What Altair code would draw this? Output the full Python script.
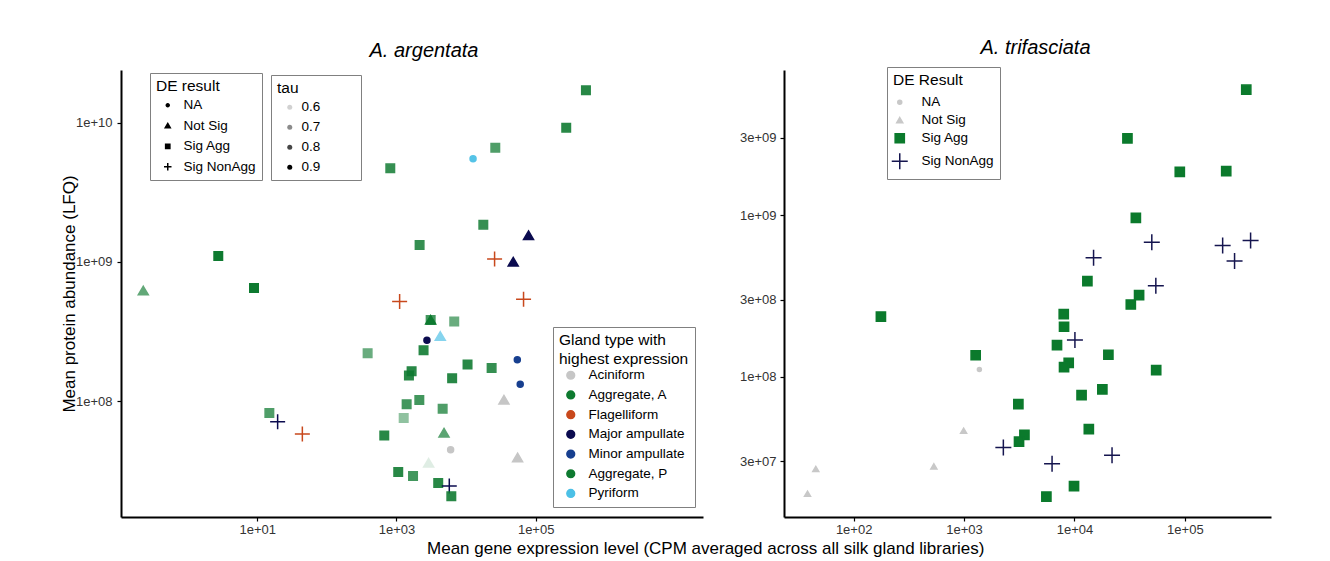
import json
import altair as alt
import pandas as pd

# ---------------- A. argentata (left panel) ----------------
arg_cpm = [0.23, 2.75, 8.97, 14.9, 19.6, 44.4, 5.28e5, 2.75e5, 2.63e4, 1.26e4,
           815, 1.77e4, 7.9e4, 2150, 2.57e4, 4.76e4, 1110, 6.7e4, 3100, 3100,
           6760, 2740, 4260, 385, 2450, 1650, 1510, 1.05e4, 2.33e4, 6310,
           5.45e4, 6.0e4, 3.5e4, 2130, 1400, 4610, 1270, 668, 4820, 6000,
           5.5e4, 2900, 1060, 1730, 3980, 5740, 6140]
arg_lfq = [6.2e8, 1.1e9, 6.5e8, 8.2e7, 7.1e7, 5.8e7, 1.71e10, 9.2e9, 6.6e9, 5.5e9,
           4.7e9, 1.85e9, 1.55e9, 1.32e9, 1.05e9, 1.0e9, 5.2e8, 5.4e8, 3.82e8, 3.82e8,
           3.73e8, 2.74e8, 2.92e8, 2.21e8, 2.32e8, 1.64e8, 1.53e8, 1.83e8, 1.73e8, 1.46e8,
           1.98e8, 1.32e8, 1.02e8, 1.02e8, 9.5e7, 8.8e7, 7.55e7, 5.66e7, 5.9e7, 4.47e7,
           3.92e7, 3.59e7, 3.09e7, 2.9e7, 2.58e7, 2.45e7, 2.07e7]
arg_de = ["Not Sig", "Sig Agg", "Sig Agg", "Sig Agg", "Sig NonAgg", "Sig NonAgg", "Sig Agg", "Sig Agg", "Sig Agg", "NA",
          "Sig Agg", "Sig Agg", "Not Sig", "Sig Agg", "Sig NonAgg", "Not Sig", "Sig NonAgg", "Sig NonAgg", "Sig Agg", "Not Sig",
          "Sig Agg", "NA", "Not Sig", "Sig Agg", "Sig Agg", "Sig Agg", "Sig Agg", "Sig Agg", "Sig Agg", "Sig Agg",
          "NA", "NA", "Not Sig", "Sig Agg", "Sig Agg", "Sig Agg", "Sig Agg", "Sig Agg", "Not Sig", "NA",
          "Not Sig", "Not Sig", "Sig Agg", "Sig Agg", "Sig Agg", "Sig NonAgg", "Sig Agg"]
arg_gland = ["Aggregate, A", "Aggregate, P", "Aggregate, P", "Aggregate, A", "Major ampullate", "Flagelliform",
             "Aggregate, A", "Aggregate, P", "Aggregate, A", "Pyriform",
             "Aggregate, A", "Aggregate, P", "Major ampullate", "Aggregate, A", "Flagelliform", "Major ampullate",
             "Flagelliform", "Flagelliform", "Aggregate, P", "Aggregate, A",
             "Aggregate, A", "Major ampullate", "Pyriform", "Aggregate, A", "Aggregate, P", "Aggregate, A",
             "Aggregate, P", "Aggregate, A", "Aggregate, P", "Aggregate, A",
             "Minor ampullate", "Minor ampullate", "Aciniform", "Aggregate, P", "Aggregate, A", "Aggregate, P",
             "Aggregate, A", "Aggregate, P", "Aggregate, A", "Aciniform",
             "Aciniform", "Aggregate, A", "Aggregate, P", "Aggregate, A", "Aggregate, P", "Major ampullate",
             "Aggregate, A"]
arg_tau = [0.77, 0.9, 0.9, 0.8, 0.9, 0.9, 0.86, 0.86, 0.8, 0.88,
           0.84, 0.84, 0.9, 0.84, 0.9, 0.9, 0.9, 0.9, 0.82, 0.9,
           0.76, 0.9, 0.78, 0.76, 0.86, 0.86, 0.86, 0.86, 0.84, 0.86,
           0.9, 0.9, 0.9, 0.82, 0.82, 0.8, 0.7, 0.86, 0.78, 0.9,
           0.9, 0.58, 0.86, 0.82, 0.86, 0.9, 0.86]

# ---------------- A. trifasciata (right panel) ----------------
tri_cpm = [176.6, 1274, 1377, 3105, 991, 3524, 3148, 2270, 45.4, 533,
           38.2, 3.6e5, 3.02e4, 9.0e4, 2.37e5, 3.6e4, 5.02e4, 2.2e5, 3.94e5, 2.82e5,
           1.49e4, 1.31e4, 5.46e4, 3.85e4, 3.24e4, 8000, 8050, 1.01e4, 6950, 2.03e4,
           8870, 8050, 5.5e4, 1.79e4, 1.16e4, 1.35e4, 2.19e4, 6270, 9910, 5570]
tri_lfq = [2.36e8, 1.36e8, 1.11e8, 6.78e7, 4.63e7, 4.38e7, 3.98e7, 3.66e7, 2.69e7, 2.79e7,
           1.89e7, 5.96e9, 2.98e9, 1.85e9, 1.87e9, 9.6e8, 6.8e8, 6.49e8, 6.97e8, 5.21e8,
           5.45e8, 3.91e8, 3.66e8, 3.2e8, 2.8e8, 2.44e8, 2.04e8, 1.69e8, 1.57e8, 1.37e8,
           1.22e8, 1.15e8, 1.1e8, 8.36e7, 7.7e7, 4.75e7, 3.28e7, 2.9e7, 2.11e7, 1.82e7]
tri_de = ["Sig Agg", "Sig Agg", "NA", "Sig Agg", "Not Sig", "Sig Agg", "Sig Agg", "Sig NonAgg", "Not Sig", "Not Sig",
          "Not Sig", "Sig Agg", "Sig Agg", "Sig Agg", "Sig Agg", "Sig Agg", "Sig NonAgg", "Sig NonAgg", "Sig NonAgg", "Sig NonAgg",
          "Sig NonAgg", "Sig Agg", "Sig NonAgg", "Sig Agg", "Sig Agg", "Sig Agg", "Sig Agg", "Sig NonAgg", "Sig Agg", "Sig Agg",
          "Sig Agg", "Sig Agg", "Sig Agg", "Sig Agg", "Sig Agg", "Sig Agg", "Sig NonAgg", "Sig NonAgg", "Sig Agg", "Sig Agg"]

# ---------------- categories, ticks ----------------
de_levels = ["NA", "Not Sig", "Sig Agg", "Sig NonAgg"]
gland_levels = ["Aciniform", "Aggregate, A", "Flagelliform", "Major ampullate",
                "Minor ampullate", "Aggregate, P", "Pyriform"]
gland_colors = ["#c6c6c6", "#0e7a30", "#c8481c", "#0b0b4f", "#173f8f", "#0e7a30", "#4cc0e6"]
tri_colors = ["#c8c8c8", "#c8c8c8", "#0b7a2c", "#15154f"]
tau_values = [0.6, 0.7, 0.8, 0.9]

left_x_ticks = [1e1, 1e3, 1e5]
left_x_labels = ["1e+01", "1e+03", "1e+05"]
left_y_ticks = [1e8, 1e9, 1e10]
left_y_labels = ["1e+08", "1e+09", "1e+10"]
right_x_ticks = [1e2, 1e3, 1e4, 1e5]
right_x_labels = ["1e+02", "1e+03", "1e+04", "1e+05"]
right_y_ticks = [3e7, 1e8, 3e8, 1e9, 3e9]
right_y_labels = ["3e+07", "1e+08", "3e+08", "1e+09", "3e+09"]

FONT = "Liberation Sans"


def circle_path(r):
    return f"M{r},0A{r},{r},0,1,1,{-r},0A{r},{r},0,1,1,{r},0Z"


def square_path(h):
    return f"M{-h},{-h}H{h}V{h}H{-h}Z"


def tri_path(w):
    return f"M0,{-0.9 * w:.3f}L{w},{0.8 * w:.3f}L{-w},{0.8 * w:.3f}Z"


def plus_path(h):
    return f"M{-h},0H{h}M0,{-h}V{h}"


left_shapes = [circle_path(0.6), tri_path(1.0), square_path(0.85), plus_path(1.5)]
right_shapes = [circle_path(0.4), tri_path(0.6), square_path(0.92), plus_path(1.6)]


def label_expr(vals, labs):
    return f"{json.dumps(labs)}[indexof({json.dumps(vals)}, datum.value)]"


df_left = pd.DataFrame({"cpm": arg_cpm, "lfq": arg_lfq, "de": arg_de,
                        "gland": arg_gland, "tau": arg_tau})
df_right = pd.DataFrame({"cpm": tri_cpm, "lfq": tri_lfq, "de": tri_de})

base_legend = dict(orient="none", direction="vertical", strokeColor="#808080",
                   fillColor="white", padding=6, titleFontSize=15.5,
                   labelFontSize=13.5, titleFontWeight="normal", titleColor="black",
                   labelColor="black", titleFont=FONT, labelFont=FONT)
legend_common = dict(base_legend, symbolOpacity=1)

gland_scale = alt.Scale(domain=gland_levels, range=gland_colors)
gland_legend = alt.Legend(title=["Gland type with", "highest expression"],
                          legendX=432, legendY=257, rowPadding=4.7, symbolSize=60,
                          symbolType="circle", symbolOffset=5, labelOffset=11,
                          symbolStrokeWidth=1.5, titleLineHeight=19, titlePadding=1,
                          **legend_common)

# spacer text keeps the tau box as wide as the original one
tau_label_expr = "format(datum.value, '.1f') + '\u2003\u2003\u2002\u200b'"

left = alt.Chart(df_left).mark_point(filled=True, strokeWidth=1.5, size=100).encode(
    x=alt.X("cpm:Q",
            scale=alt.Scale(type="log", domain=[0.11, 2.54e7], nice=False),
            axis=alt.Axis(values=left_x_ticks, labelExpr=label_expr(left_x_ticks, left_x_labels),
                          title=None)),
    y=alt.Y("lfq:Q",
            scale=alt.Scale(type="log", domain=[1.47e7, 2.39e10], nice=False),
            axis=alt.Axis(values=left_y_ticks, labelExpr=label_expr(left_y_ticks, left_y_labels),
                          title="Mean protein abundance (LFQ)", labelPadding=5, titlePadding=-3)),
    shape=alt.Shape("de:N", scale=alt.Scale(domain=de_levels, range=left_shapes),
                    legend=alt.Legend(title="DE result", legendX=29, legendY=3, rowPadding=5.5,
                                      symbolSize=25, symbolFillColor="black",
                                      symbolStrokeColor="black", symbolStrokeWidth=1.5,
                                      symbolOffset=5, labelOffset=9, titlePadding=4,
                                      **legend_common)),
    color=alt.Color("gland:N", scale=gland_scale, legend=gland_legend),
    stroke=alt.Stroke("gland:N", scale=gland_scale, legend=gland_legend),
    opacity=alt.Opacity("tau:Q", scale=alt.Scale(domain=[0.57, 0.9], range=[0.1, 1.0], clamp=True),
                        legend=alt.Legend(title="tau", values=tau_values, labelExpr=tau_label_expr,
                                          legendX=150, legendY=5, rowPadding=5, symbolSize=25,
                                          symbolType="circle", symbolFillColor="black",
                                          symbolStrokeColor="black", symbolStrokeWidth=0,
                                          symbolOffset=6, labelOffset=5, titlePadding=4,
                                          **base_legend)),
).properties(
    width=582, height=447,
    title=alt.TitleParams("A. argentata", fontStyle="italic", fontSize=20, fontWeight="normal",
                          font=FONT, anchor="middle", dx=12, offset=9, color="black"),
)

tri_scale_color = alt.Scale(domain=de_levels, range=tri_colors)
tri_legend = alt.Legend(title="DE Result", legendX=103, legendY=-3, rowPadding=3,
                        symbolSize=100, symbolOffset=0, labelOffset=15, symbolStrokeWidth=1.5,
                        titlePadding=7, **legend_common)

right = alt.Chart(df_right).mark_point(filled=True, strokeWidth=1.5, size=100, opacity=1).encode(
    x=alt.X("cpm:Q",
            scale=alt.Scale(type="log", domain=[23.4, 6.03e5], nice=False),
            axis=alt.Axis(values=right_x_ticks, labelExpr=label_expr(right_x_ticks, right_x_labels),
                          title=None)),
    y=alt.Y("lfq:Q",
            scale=alt.Scale(type="log", domain=[1.36e7, 7.89e9], nice=False),
            axis=alt.Axis(values=right_y_ticks, labelExpr=label_expr(right_y_ticks, right_y_labels),
                          title=None, labelPadding=4)),
    shape=alt.Shape("de:N", scale=alt.Scale(domain=de_levels, range=right_shapes),
                    legend=tri_legend),
    color=alt.Color("de:N", scale=tri_scale_color, legend=tri_legend),
    stroke=alt.Stroke("de:N", scale=tri_scale_color, legend=tri_legend),
).properties(
    width=487, height=447,
    title=alt.TitleParams("A. trifasciata", fontStyle="italic", fontSize=20, fontWeight="normal",
                          font=FONT, anchor="middle", dx=8, offset=9, color="black"),
)

chart = alt.hconcat(
    left, right, spacing=36,
    title=alt.TitleParams("Mean gene expression level (CPM averaged across all silk gland libraries)",
                          orient="bottom", anchor="middle", fontSize=17, fontWeight="normal",
                          font=FONT, color="black", dx=40, offset=5),
).resolve_scale(
    x="independent", y="independent", color="independent", shape="independent",
    stroke="independent", opacity="independent",
).resolve_legend(
    color="independent", shape="independent",
    stroke="independent", opacity="independent",
).properties(
    padding={"left": 52, "top": 29, "right": 5, "bottom": 5},
    background="white",
).configure_view(
    stroke=None,
).configure_axis(
    grid=False, domainColor="black", domainWidth=2, tickColor="black", tickWidth=1.2,
    tickSize=4, labelFontSize=13, labelColor="#333333", labelFont=FONT, labelPadding=2,
    titleFont=FONT, titleFontSize=17, titleFontWeight="normal", titleColor="black",
    titlePadding=2,
)

chart.save("out.html", embed_options={"renderer": "svg", "actions": False})
